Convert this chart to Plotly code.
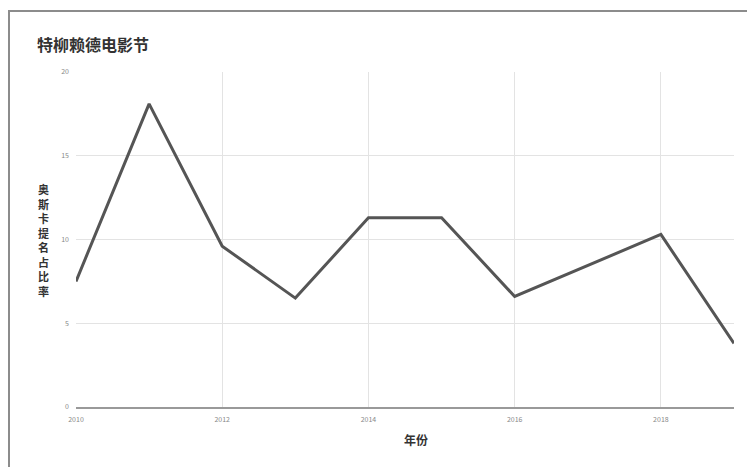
import plotly.graph_objects as go

years = [2010, 2011, 2012, 2013, 2014, 2015, 2016, 2018, 2019]
share = [7.5, 18.1, 9.6, 6.5, 11.3, 11.3, 6.6, 10.3, 3.8]

title_text = "特柳赖德电影节"
x_title = "年份"
y_title = "奥斯卡提名占比率"

OFF = 8  # page body margin
W, H = 755, 467
L = 76 - OFF
T = 72 - OFF
R = W - (734 - OFF)
B = H - (407 - OFF)
pw, ph = W - L - R, H - T - B

def px_x(p):
    return (p - OFF - L) / pw

def px_y(p):
    return (H - B - (p - OFF)) / ph

fig = go.Figure()
fig.add_trace(go.Scatter(
    x=years, y=share, mode="lines",
    line=dict(color="#555555", width=3),
    hoverinfo="x+y", showlegend=False,
))

cjk = "Noto Sans CJK SC"

annotations = []
chars = list(y_title)
n = len(chars)
step = 14.5
center = 240
for i, ch in enumerate(chars):
    yy = center + (i - (n - 1) / 2) * step
    annotations.append(dict(text="<b>" + ch + "</b>", xref="paper", yref="paper",
                            x=px_x(43), y=px_y(yy), showarrow=False,
                            xanchor="center", yanchor="middle",
                            font=dict(size=11, color="#333333", family=cjk)))
annotations.append(dict(text="<b>" + x_title + "</b>", xref="paper", yref="paper",
                        x=px_x(416), y=px_y(439), showarrow=False,
                        xanchor="center", yanchor="middle",
                        font=dict(size=12, color="#333333", family=cjk)))

fig.update_layout(
    width=W, height=H,
    margin=dict(l=L, r=R, t=T, b=B),
    paper_bgcolor="white", plot_bgcolor="white",
    font=dict(family=cjk, color="#333333"),
    title=dict(text="<b>" + title_text + "</b>", x=(37 - OFF) / W, xanchor="left", xref="container",
               y=1 - (45 - OFF) / H, yanchor="middle", yref="container",
               font=dict(size=16, color="#333333", family=cjk)),
    xaxis=dict(range=[2010, 2019], dtick=2, tick0=2010, showgrid=True, gridcolor="#e3e3e3",
               gridwidth=1, showline=True, linecolor="#999999", linewidth=1.5,
               ticks="", tickfont=dict(size=7, color="#888888"), zeroline=False,
               ticklabelstandoff=5),
    yaxis=dict(range=[0, 20], dtick=5, showgrid=True, gridcolor="#e3e3e3", gridwidth=1,
               showline=False, zeroline=False, ticks="",
               tickfont=dict(size=7, color="#888888"), ticklabelstandoff=6),
    shapes=[dict(type="rect", xref="paper", yref="paper",
                 x0=(1 - L) / pw, x1=(W + 20 - L) / pw,
                 y0=-(B + 20) / ph, y1=(H - B - 3) / ph,
                 line=dict(color="#8c8c8c", width=2), fillcolor="rgba(0,0,0,0)", layer="above")],
    annotations=annotations,
)

fig.write_html("out.html")
